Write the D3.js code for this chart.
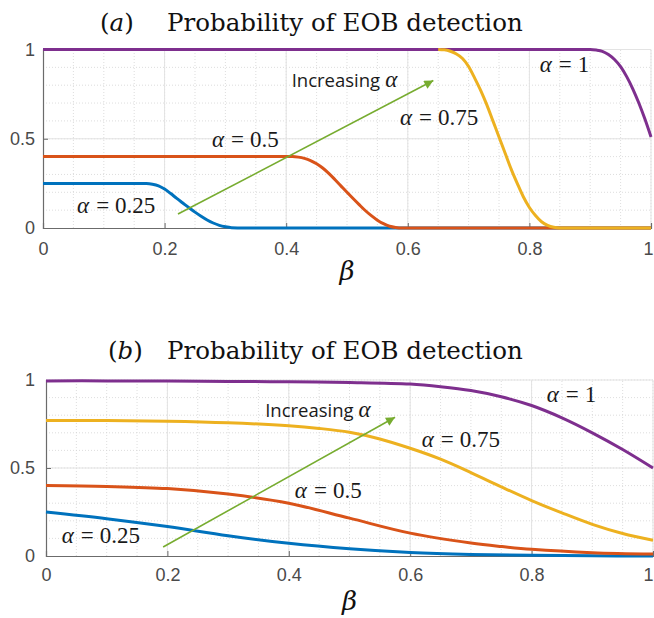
<!DOCTYPE html>
<html>
<head>
<meta charset="utf-8">
<script src="https://cdn.jsdelivr.net/npm/d3@7"></script>
<style>
  body { margin: 0; background: #fff; }
</style>
</head>
<body>
<div id="viz"></div>
<script>
// ---- data: [beta, probability] ----
// panel (a)
const a_alpha025 = [[0,0.25],[0.15,0.25],[0.17,0.249],[0.18,0.245],[0.19,0.236],[0.2,0.218],[0.21,0.193],[0.22,0.166],[0.23,0.14],[0.24,0.114],[0.25,0.089],[0.26,0.066],[0.27,0.045],[0.28,0.028],[0.29,0.015],[0.3,0.007],[0.31,0.002],[0.33,0],[1,0]]
const a_alpha05 = [[0,0.4],[0.41,0.4],[0.42,0.397],[0.43,0.39],[0.44,0.378],[0.45,0.36],[0.46,0.336],[0.47,0.306],[0.48,0.272],[0.49,0.236],[0.5,0.2],[0.51,0.165],[0.52,0.131],[0.53,0.098],[0.54,0.069],[0.55,0.044],[0.56,0.024],[0.57,0.01],[0.58,0.003],[0.59,0],[1,0]]
const a_alpha075 = [[0.65,1],[0.66,0.998],[0.67,0.99],[0.68,0.975],[0.69,0.95],[0.7,0.905],[0.71,0.84],[0.72,0.77],[0.73,0.69],[0.74,0.6],[0.75,0.51],[0.76,0.42],[0.77,0.33],[0.78,0.25],[0.79,0.175],[0.8,0.115],[0.81,0.07],[0.82,0.035],[0.83,0.015],[0.84,0.004],[0.85,0],[1,0]]
const a_alpha1 = [[0,1],[0.9,1],[0.91,0.997],[0.92,0.99],[0.93,0.972],[0.94,0.944],[0.95,0.904],[0.96,0.848],[0.97,0.78],[0.98,0.7],[0.99,0.61],[1,0.51]]

// panel (b)
const b_alpha025 = [[0,0.25],[0.1,0.212],[0.2,0.167],[0.3,0.115],[0.4,0.072],[0.5,0.041],[0.6,0.02],[0.7,0.009],[0.8,0.004],[0.9,0.001],[1,0]]
const b_alpha05 = [[0,0.4],[0.1,0.395],[0.2,0.383],[0.3,0.352],[0.4,0.3],[0.5,0.215],[0.6,0.13],[0.7,0.074],[0.75,0.054],[0.8,0.038],[0.9,0.019],[1,0.011]]
const b_alpha075 = [[0,0.77],[0.1,0.77],[0.2,0.766],[0.3,0.757],[0.4,0.74],[0.45,0.725],[0.5,0.703],[0.55,0.665],[0.6,0.612],[0.65,0.55],[0.7,0.474],[0.75,0.393],[0.8,0.315],[0.85,0.245],[0.9,0.18],[0.95,0.128],[1,0.09]]
const b_alpha1 = [[0,0.995],[0.1,0.995],[0.2,0.994],[0.3,0.992],[0.4,0.99],[0.5,0.986],[0.6,0.977],[0.65,0.962],[0.7,0.94],[0.75,0.905],[0.8,0.855],[0.85,0.785],[0.9,0.7],[0.95,0.605],[1,0.5]]

const xTicks = [0, 0.2, 0.4, 0.6, 0.8, 1]
const yTicks = [0, 0.5, 1]
const alphaLabels = ["0.25", "0.5", "0.75", "1"]
const colors = ["#0072BD", "#D95319", "#EDB120", "#7E2F8E"]

const width = 654
const height = 618

const svg = d3.select("#viz").append("svg")
    .attr("width", width)
    .attr("height", height)

svg.append("defs").append("marker")
    .attr("id", "arrow")
    .attr("viewBox", "0 0 10 10")
    .attr("refX", 10).attr("refY", 5)
    .attr("markerWidth", 11).attr("markerHeight", 9)
    .attr("markerUnits", "userSpaceOnUse")
    .attr("orient", "auto")
  .append("path")
    .attr("d", "M0,0 L10,5 L0,10 z")
    .attr("fill", "#77AC30")

const panels = [
  {
    letter: "a", xr: [43, 651], yr: [228, 49.5], titleX: 100, titleY: 31, betaY: 280,
    xPad: 14, yPad: 8,
    series: [a_alpha025, a_alpha05, a_alpha1, a_alpha075],
    seriesColors: [colors[0], colors[1], colors[3], colors[2]],
    labels: [[0.056, 0.084], [0.278, 0.454], [0.587, 0.577], [0.817, 0.874]],
    inc: [0.409, 0.79],
    arrow: [[0.222, 0.078], [0.642, 0.826]],
    curve: d3.curveMonotoneX
  },
  {
    letter: "b", xr: [46, 653], yr: [556, 380], titleX: 108, titleY: 359, betaY: 610,
    xPad: 12, yPad: 11,
    series: [b_alpha025, b_alpha05, b_alpha075, b_alpha1],
    seriesColors: colors,
    labels: [[0.026, 0.074], [0.41, 0.33], [0.619, 0.619], [0.825, 0.875]],
    inc: [0.361, 0.79],
    arrow: [[0.193, 0.051], [0.575, 0.788]],
    curve: d3.curveCatmullRom
  }
]

panels.forEach(function(p) {
  const x = d3.scaleLinear().domain([0, 1]).range(p.xr)
  const y = d3.scaleLinear().domain([0, 1]).range(p.yr)
  const g = svg.append("g")

  // minor grid (dotted)
  g.selectAll(".mx").data(d3.range(0.05, 1.001, 0.05)).enter().append("line")
      .attr("x1", d => x(d)).attr("x2", d => x(d))
      .attr("y1", y(0)).attr("y2", y(1))
      .attr("stroke", "#d4d4d4").attr("stroke-width", 0.8)
      .attr("stroke-dasharray", "1,2")
  g.selectAll(".my").data(d3.range(0.1, 1.001, 0.1)).enter().append("line")
      .attr("x1", x(0)).attr("x2", x(1))
      .attr("y1", d => y(d)).attr("y2", d => y(d))
      .attr("stroke", "#d4d4d4").attr("stroke-width", 0.8)
      .attr("stroke-dasharray", "1,2")

  // major grid
  g.selectAll(".gx").data(xTicks.slice(1)).enter().append("line")
      .attr("x1", d => x(d)).attr("x2", d => x(d))
      .attr("y1", y(0)).attr("y2", y(1))
      .attr("stroke", "#e3e3e3").attr("stroke-width", 1)
  g.selectAll(".gy").data(yTicks.slice(1)).enter().append("line")
      .attr("x1", x(0)).attr("x2", x(1))
      .attr("y1", d => y(d)).attr("y2", d => y(d))
      .attr("stroke", "#e3e3e3").attr("stroke-width", 1)

  // axes
  const xAxis = d3.axisBottom(x).tickValues(xTicks).tickFormat(d3.format("")).tickSize(-5).tickPadding(p.xPad)
  const yAxis = d3.axisLeft(y).tickValues(yTicks).tickFormat(d3.format("")).tickSize(-5).tickPadding(p.yPad)
  const gx = g.append("g").attr("transform", "translate(0," + y(0) + ")").call(xAxis)
  const gy = g.append("g").attr("transform", "translate(" + x(0) + ",0)").call(yAxis)
  ;[gx, gy].forEach(function(a) {
    a.select(".domain").attr("stroke", "#6b6b6b").attr("stroke-width", 1.2)
    a.selectAll(".tick line").attr("stroke", "#6b6b6b")
    a.selectAll(".tick text")
        .attr("font-family", "'Liberation Sans', Arial, sans-serif")
        .attr("font-size", 18).attr("fill", "#4a4a4a")
  })
  // keep the last x label inside the page
  gx.selectAll(".tick text").filter(d => d === 1)
      .attr("text-anchor", "end").attr("dx", 653 - x(1) + 0.1)

  // curves
  const line = d3.line().x(d => x(d[0])).y(d => y(d[1])).curve(p.curve)
  g.selectAll(".curve").data(p.series).enter().append("path")
      .attr("d", line)
      .attr("fill", "none")
      .attr("stroke", (d, i) => p.seriesColors[i])
      .attr("stroke-width", 3)

  // arrow
  g.append("line")
      .attr("x1", x(p.arrow[0][0])).attr("y1", y(p.arrow[0][1]))
      .attr("x2", x(p.arrow[1][0])).attr("y2", y(p.arrow[1][1]))
      .attr("stroke", "#77AC30").attr("stroke-width", 1.6)
      .attr("marker-end", "url(#arrow)")

  // alpha labels
  p.labels.forEach(function(pos, i) {
    const t = g.append("text")
        .attr("x", x(pos[0])).attr("y", y(pos[1]))
        .attr("font-family", "'Liberation Serif', 'Times New Roman', serif")
        .attr("font-size", 23).attr("fill", "#1a1a1a")
    t.append("tspan").attr("font-style", "italic").text("α")
    t.append("tspan").attr("dx", 7).text("=")
    t.append("tspan").attr("dx", 6).text(alphaLabels[i])
  })

  const inc = g.append("text")
      .attr("x", x(p.inc[0])).attr("y", y(p.inc[1]))
      .attr("font-family", "'Open Sans', sans-serif")
      .attr("font-size", 18.5).attr("fill", "#1a1a1a")
  inc.append("tspan").text("Increasing")
  inc.append("tspan").attr("dx", 5)
      .attr("font-family", "'Liberation Serif', serif").attr("font-style", "italic")
      .attr("font-size", 23).text("α")

  // title
  const title = svg.append("text")
      .attr("x", p.titleX).attr("y", p.titleY)
      .attr("font-family", "'DejaVu Serif', serif")
      .attr("font-size", 24.5).attr("fill", "#111")
  title.append("tspan").text("(")
  title.append("tspan").attr("font-style", "italic").text(p.letter)
  title.append("tspan").text(")")
  title.append("tspan").attr("x", 167).text("Probability of EOB detection")

  // x label
  svg.append("text")
      .attr("x", (p.xr[0] + p.xr[1]) / 2).attr("y", p.betaY)
      .attr("text-anchor", "middle")
      .attr("font-family", "'DejaVu Serif', serif")
      .attr("font-style", "italic")
      .attr("font-size", 26).attr("fill", "#111")
      .text("β")
})
</script>
</body>
</html>
